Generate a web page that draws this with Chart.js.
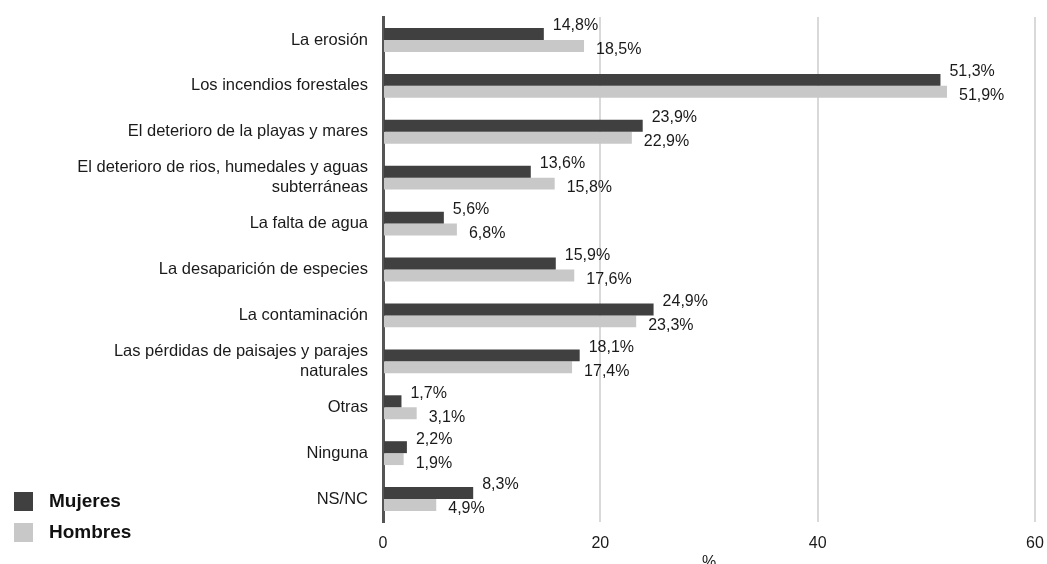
<!DOCTYPE html>
<html>
<head>
<meta charset="utf-8">
<script src="https://cdn.jsdelivr.net/npm/chart.js@4/dist/chart.umd.min.js"></script>
<style>
  html, body { margin: 0; padding: 0; background: #fff; overflow: hidden; }
  #wrap { position: relative; width: 1047px; height: 578px; }
</style>
</head>
<body>
<div id="wrap"><canvas id="chart"></canvas></div>
<script>
const categories = [
    'La erosión',
    'Los incendios forestales',
    'El deterioro de la playas y mares',
    ['El deterioro de rios, humedales y aguas', 'subterráneas'],
    'La falta de agua',
    'La desaparición de especies',
    'La contaminación',
    ['Las pérdidas de paisajes y parajes', 'naturales'],
    'Otras',
    'Ninguna',
    'NS/NC',
];
const mujeres = [14.8, 51.3, 23.9, 13.6, 5.6, 15.9, 24.9, 18.1, 1.7, 2.2, 8.3];
const hombres = [18.5, 51.9, 22.9, 15.8, 6.8, 17.6, 23.3, 17.4, 3.1, 1.9, 4.9];
const xTicks = [0, 20, 40, 60];

const FONT = '"Liberation Sans", Arial, sans-serif';
Chart.defaults.font.family = FONT;
Chart.defaults.color = '#1a1a1a';

const fmt = (v) => v.toFixed(1).replace('.', ',') + '%';

// value labels next to each bar, dark one a bit higher, light one a bit lower
const valueLabels = {
    id: 'valueLabels',
    afterDatasetsDraw(chart) {
        const ctx = chart.ctx;
        ctx.save();
        ctx.font = '16px ' + FONT;
        ctx.fillStyle = '#1a1a1a';
        ctx.textAlign = 'left';
        ctx.textBaseline = 'middle';
        chart.data.datasets.forEach((ds, i) => {
            const dx = i === 0 ? 9 : 12;
            const dy = i === 0 ? -8 : 4;
            chart.getDatasetMeta(i).data.forEach((bar, j) => {
                ctx.fillText(fmt(ds.data[j]), bar.x + dx, bar.y + dy);
            });
        });
        ctx.restore();
    },
};

// legend in the bottom-left corner
const cornerLegend = {
    id: 'cornerLegend',
    afterDraw(chart) {
        const ctx = chart.ctx;
        ctx.save();
        ctx.font = 'bold 19px ' + FONT;
        ctx.textBaseline = 'middle';
        ctx.textAlign = 'left';
        chart.data.datasets.forEach((ds, i) => {
            const top = 492 + i * 31;
            ctx.fillStyle = ds.backgroundColor;
            ctx.fillRect(14, top, 19, 19);
            ctx.fillStyle = '#111';
            ctx.fillText(ds.label, 49, top + 10);
        });
        ctx.restore();
    },
};

new Chart(document.getElementById('chart'), {
    type: 'bar',
    data: {
        labels: categories,
        datasets: [
            { label: 'Mujeres', data: mujeres, backgroundColor: '#404040' },
            { label: 'Hombres', data: hombres, backgroundColor: '#c8c8c8' },
        ],
    },
    options: {
        indexAxis: 'y',
        responsive: true,
        maintainAspectRatio: false,
        animation: false,
        layout: { padding: { top: 17, right: 12, left: 0, bottom: 0 } },
        datasets: {
            bar: { categoryPercentage: 0.52, barPercentage: 1 },
        },
        plugins: {
            legend: { display: false },
            tooltip: { enabled: false },
        },
        scales: {
            x: {
                min: 0,
                max: 60,
                afterBuildTicks: (scale) => { scale.ticks = xTicks.map((v) => ({ value: v })); },
                afterFit: (scale) => {
                    scale.height = 56;
                    scale.paddingLeft = 0;
                    scale.paddingRight = 0;
                },
                grid: {
                    color: (c) => (c.tick && c.tick.value === 0 ? 'rgba(0,0,0,0)' : '#d9d9d9'),
                    lineWidth: 2,
                    drawTicks: false,
                },
                border: { display: false },
                ticks: { font: { size: 16 }, padding: 12, color: '#1a1a1a' },
                title: {
                    display: true,
                    text: '%',
                    font: { size: 16 },
                    padding: { top: 0, bottom: 6 },
                    color: '#1a1a1a',
                },
            },
            y: {
                afterFit: (scale) => {
                    scale.width = 383;
                    scale.paddingTop = 0;
                    scale.paddingBottom = 0;
                },
                grid: { display: false, drawTicks: false },
                border: { display: true, color: '#555555', width: 3 },
                ticks: { font: { size: 16.5, lineHeight: 1.18 }, padding: 15, color: '#1a1a1a' },
            },
        },
    },
    plugins: [valueLabels, cornerLegend],
});
</script>
</body>
</html>
